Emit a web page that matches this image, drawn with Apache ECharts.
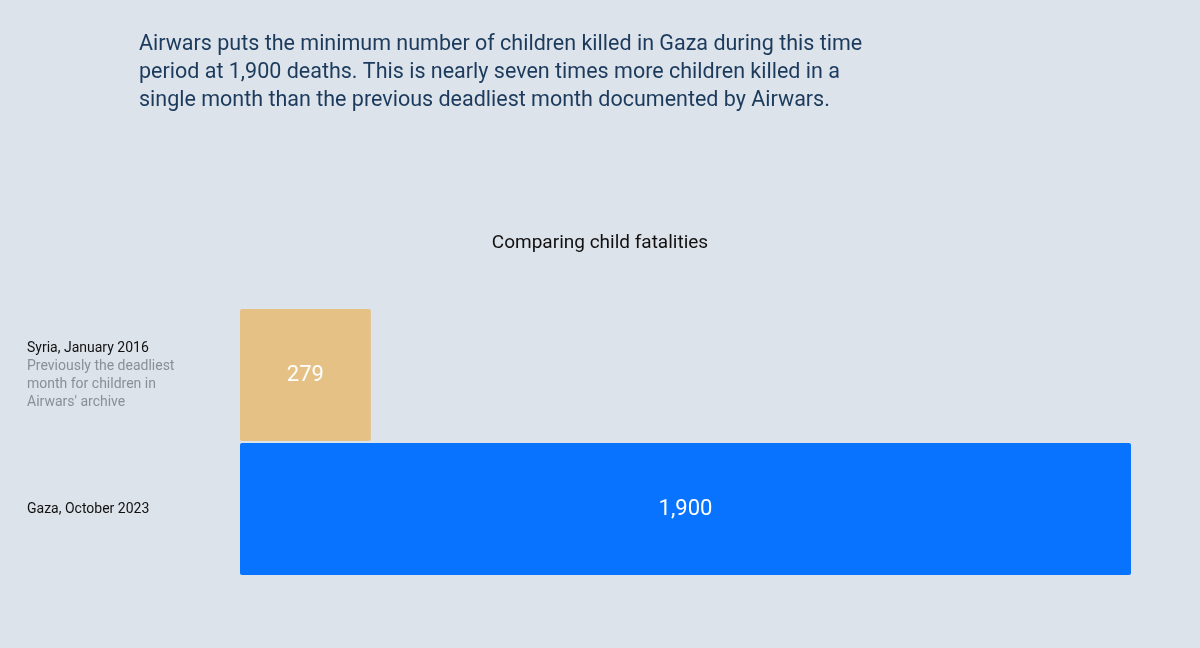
<!DOCTYPE html>
<html><head><meta charset="utf-8">
<script src="https://cdn.jsdelivr.net/npm/echarts@6/dist/echarts.min.js"></script>
<style>html,body{margin:0;padding:0;background:#dde3ea;}#c{width:1200px;height:648px;}</style>
</head><body><div id="c"></div>
<script>
const categories = ["Syria, January 2016", "Gaza, October 2023"];
const subtitles = ["Previously the deadliest\nmonth for children in\nAirwars' archive", ""];
const values = [279, 1900];
const colors = ["#e5c185", "#0773ff"];
const chart = echarts.init(document.getElementById('c'));
chart.setOption({
  backgroundColor: '#dde3ea',
  title: [
    {text: "Airwars puts the minimum number of children killed in Gaza during this time\nperiod at 1,900 deaths. This is nearly seven times more children killed in a\nsingle month than the previous deadliest month documented by Airwars.",
     left: 134, top: 26, textStyle: {fontFamily: 'Roboto', fontWeight: 'normal', fontSize: 21.5, lineHeight: 28, color: '#1b3a5c'}},
    {text: "Comparing child fatalities", left: 'center', top: 229,
     textStyle: {fontFamily: 'Roboto', fontWeight: 'normal', fontSize: 19, color: '#111'}}
  ],
  grid: {left: 240, right: 69, top: 308, bottom: 72},
  xAxis: {type: 'value', min: 0, max: 1900, show: false},
  yAxis: {type: 'category', data: categories, inverse: true,
    axisLine: {show: false}, axisTick: {show: false},
    axisLabel: {margin: 213, align: 'left',
      formatter: (v, i) => subtitles[i] ? '{a|' + v + '}\n{b|' + subtitles[i] + '}' : '{a|' + v + '}',
      rich: {a: {fontFamily: 'Roboto', fontSize: 14, color: '#111', lineHeight: 18},
             b: {fontFamily: 'Roboto', fontSize: 14, color: '#8a8f96', lineHeight: 18}}}},
  series: [{type: 'bar', barCategoryGap: '1.5%',
    data: values.map((v, i) => ({value: v, itemStyle: {color: colors[i], borderRadius: 2}})),
    label: {show: true, position: 'inside', formatter: p => p.value.toLocaleString('en-US'),
      color: '#fff', fontFamily: 'Roboto', fontSize: 22}}]
});
</script></body></html>
